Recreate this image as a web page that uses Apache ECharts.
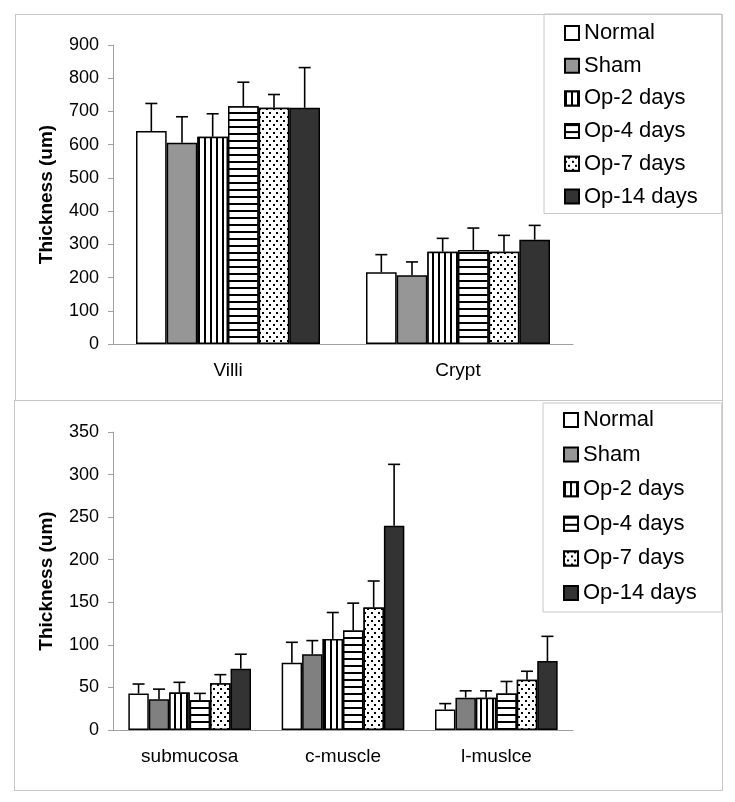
<!DOCTYPE html>
<html>
<head>
<meta charset="utf-8">
<script src="https://cdn.jsdelivr.net/npm/echarts@6/dist/echarts.min.js"></script>
<style>
html, body { margin: 0; padding: 0; background: #fff; }
.frame { position: absolute; border: 1px solid #c8c8c8; box-sizing: border-box; }
#chart { position: absolute; left: 0; top: 0; width: 735px; height: 802px; }
</style>
</head>
<body>
<div class="frame" style="left:15px;top:14px;width:708px;height:387px"></div>
<div class="frame" style="left:14px;top:400px;width:709px;height:391px"></div>
<div id="chart"></div>
<script>
// groups and categories
var groups = ['Normal', 'Sham', 'Op-2 days', 'Op-4 days', 'Op-7 days', 'Op-14 days']
var topCats = ['Villi', 'Crypt']
var bottomCats = ['submucosa', 'c-muscle', 'l-muslce']

// mean / SD per category, one value per group
var villiMean = [641, 606, 624, 716, 711, 711]
var villiSd = [83, 78, 69, 72, 40, 121]
var cryptMean = [216, 207, 278, 283, 278, 314]
var cryptSd = [53, 40, 40, 66, 49, 43]

var submucosaMean = [43, 36, 44, 35, 55, 72]
var submucosaSd = [11, 12, 12, 8, 10, 17]
var cMuscleMean = [79, 89, 107, 117, 144, 240]
var cMuscleSd = [24, 16, 31, 32, 31, 72]
var lMuscleMean = [24, 38, 38, 43, 59, 81]
var lMuscleSd = [7, 8, 8, 14, 10, 29]

var FONT = 'Liberation Sans'

// fill patterns
var vStripe = { symbol: 'rect', symbolSize: 1, symbolKeepAspect: false, color: '#000', backgroundColor: '#fff', dashArrayX: [2, 4], dashArrayY: [1, 0] }
var hStripe = { symbol: 'rect', symbolSize: 1, symbolKeepAspect: false, color: '#000', backgroundColor: '#fff', dashArrayX: [1, 0], dashArrayY: [2, 4.5] }
var dots = { symbol: 'rect', symbolSize: 1, symbolKeepAspect: false, color: '#000', backgroundColor: '#fff', dashArrayX: [[1.5, 4.5], [0, 3, 1.5, 1.5]], dashArrayY: [1.5, 1.5] }
var decals = [null, null, vStripe, hStripe, dots, null]

function buildSeries(gridIdx, means, sds, fills) {
  var out = []
  groups.forEach(function (g, k) {
    var itemStyle = { color: fills[k], borderColor: '#000', borderWidth: 1.5 }
    if (decals[k]) itemStyle.decal = decals[k]
    out.push({
      name: g,
      type: 'bar',
      xAxisIndex: gridIdx,
      yAxisIndex: gridIdx,
      barGap: '0%',
      barCategoryGap: '20%',
      itemStyle: itemStyle,
      emphasis: { disabled: true },
      data: means.map(function (m) { return m[k] })
    })
  })
  // error bars (upper only)
  groups.forEach(function (g, k) {
    out.push({
      name: g + ' SD',
      type: 'custom',
      xAxisIndex: gridIdx,
      yAxisIndex: gridIdx,
      z: 5,
      encode: { x: 0, y: [1, 2] },
      data: means.map(function (m, c) { return [c, m[k], m[k] + sds[c][k]] }),
      renderItem: function (params, api) {
        var c = api.value(0)
        var p0 = api.coord([c, api.value(1)])
        var p1 = api.coord([c, api.value(2)])
        var band = api.size([1, 0])[0]
        var w = band * 0.8 / groups.length
        var x = p0[0] - band * 0.4 + w * (k + 0.5)
        var st = { stroke: '#000', lineWidth: 1.6 }
        return {
          type: 'group',
          children: [
            { type: 'line', shape: { x1: x, y1: p0[1], x2: x, y2: p1[1] }, style: st },
            { type: 'line', shape: { x1: x - 6, y1: p1[1], x2: x + 6, y2: p1[1] }, style: st }
          ]
        }
      }
    })
  })
  return out
}

function xAxisOpt(gridIdx, cats) {
  return {
    gridIndex: gridIdx,
    type: 'category',
    data: cats,
    axisLine: { lineStyle: { color: '#a0a0a0', width: 1 } },
    axisTick: { length: 5, lineStyle: { color: '#a0a0a0' } },
    axisLabel: { color: '#000', fontSize: 19, fontFamily: FONT, margin: 17 }
  }
}

function yAxisOpt(gridIdx, max, interval) {
  return {
    gridIndex: gridIdx,
    type: 'value',
    min: 0,
    max: max,
    interval: interval,
    name: 'Thickness (um)',
    nameLocation: 'middle',
    nameGap: 57,
    nameTextStyle: { color: '#000', fontSize: 19, fontWeight: 'bold', fontFamily: FONT },
    axisLine: { show: true, lineStyle: { color: '#a0a0a0', width: 1 } },
    axisTick: { show: true, length: 5, lineStyle: { color: '#a0a0a0' } },
    splitLine: { show: false },
    axisLabel: { color: '#000', fontSize: 18, fontFamily: FONT, margin: 14 }
  }
}

function legendOpt(left, top, padding, gap) {
  return {
    data: groups,
    orient: 'vertical',
    left: left,
    top: top,
    padding: padding,
    itemGap: gap,
    itemWidth: 14,
    itemHeight: 14,
    itemTextGap: 8,
    icon: 'rect',
    borderColor: '#c8c8c8',
    borderWidth: 1,
    selectedMode: false,
    textStyle: { color: '#000', fontSize: 22, lineHeight: 22, fontFamily: FONT }
  }
}

var myChart = echarts.init(document.getElementById('chart'))

var option = {
  animation: false,
  textStyle: { fontFamily: FONT },
  grid: [
    { left: 113, top: 45, width: 460, height: 299 },
    { left: 113, top: 432, width: 460, height: 298 }
  ],
  legend: [
    legendOpt(544, 14, [8, 24, 6, 20], 10.7),
    legendOpt(543, 403, [6, 25, 8, 20], 12.6)
  ],
  xAxis: [xAxisOpt(0, topCats), xAxisOpt(1, bottomCats)],
  yAxis: [yAxisOpt(0, 900, 100), yAxisOpt(1, 350, 50)],
  series: buildSeries(0,
      [villiMean, cryptMean], [villiSd, cryptSd],
      ['#fff', '#969696', '#fff', '#fff', '#fff', '#333'])
    .concat(buildSeries(1,
      [submucosaMean, cMuscleMean, lMuscleMean], [submucosaSd, cMuscleSd, lMuscleSd],
      ['#fff', '#808080', '#fff', '#fff', '#fff', '#333']))
}

myChart.setOption(option)
</script>
</body>
</html>
